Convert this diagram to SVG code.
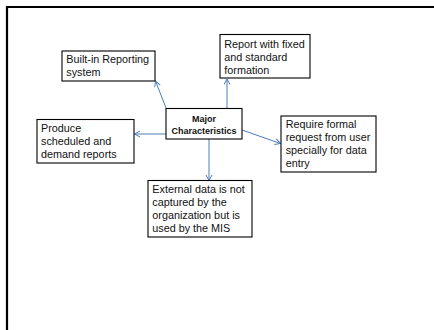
<svg xmlns="http://www.w3.org/2000/svg" width="434" height="330" viewBox="0 0 434 330">
<style>
.box{fill:#fff;stroke:#000;stroke-width:1.1}
.t{font-family:"Liberation Sans",Arial,sans-serif;font-size:10.8px;fill:#111}
.b{font-family:"Liberation Sans",Arial,sans-serif;font-size:9px;font-weight:bold;fill:#111;text-anchor:middle}
.c{stroke:#4a7ebb;stroke-width:1;fill:none;marker-end:url(#ah)}
</style>
<defs>
<marker id="ah" markerWidth="8" markerHeight="8" refX="6" refY="3.5" orient="auto" markerUnits="userSpaceOnUse">
<path d="M0.5,0.5 L6,3.5 L0.5,6.5" fill="none" stroke="#4a7ebb" stroke-width="1"/>
</marker>
</defs>
<rect x="0" y="0" width="434" height="330" fill="#fff"/>
<path d="M7,331 L7,7 L435,7" fill="none" stroke="#000" stroke-width="2.2"/>
<g id="connectors">
<line class="c" x1="166" y1="108" x2="155.5" y2="81"/>
<line class="c" x1="227" y1="108" x2="227" y2="79"/>
<line class="c" x1="166" y1="134" x2="134.5" y2="134"/>
<line class="c" x1="242" y1="130" x2="280.5" y2="143.5"/>
<line class="c" x1="209" y1="139" x2="209" y2="180.5"/>
</g>
<g id="center">
<rect class="box" x="166" y="108.5" width="76" height="30.5"/>
<text class="b" x="204" y="121.5">Major</text>
<text class="b" x="204" y="134">Characteristics</text>
</g>
<g id="builtin">
<rect class="box" x="62" y="51" width="93" height="30"/>
<text class="t" x="66.3" y="63">Built-in Reporting</text>
<text class="t" x="66.3" y="76">system</text>
</g>
<g id="report">
<rect class="box" x="220" y="34.5" width="90" height="43.5"/>
<text class="t" x="224.3" y="47.5">Report with fixed</text>
<text class="t" x="224.3" y="60.5">and standard</text>
<text class="t" x="224.3" y="73.5">formation</text>
</g>
<g id="produce">
<rect class="box" x="37" y="119.5" width="97" height="43.5"/>
<text class="t" x="41" y="132">Produce</text>
<text class="t" x="41" y="145">scheduled and</text>
<text class="t" x="41" y="157.5">demand reports</text>
</g>
<g id="require">
<rect class="box" x="281" y="116" width="95" height="56"/>
<text class="t" x="285.7" y="128">Require formal</text>
<text class="t" x="285.7" y="141">request from user</text>
<text class="t" x="285.7" y="154">specially for data</text>
<text class="t" x="285.7" y="167">entry</text>
</g>
<g id="external">
<rect class="box" x="148" y="180.5" width="104" height="56.5"/>
<text class="t" x="152.3" y="193">External data is not</text>
<text class="t" x="152.3" y="206">captured by the</text>
<text class="t" x="152.3" y="219">organization but is</text>
<text class="t" x="152.3" y="232">used by the MIS</text>
</g>
</svg>
